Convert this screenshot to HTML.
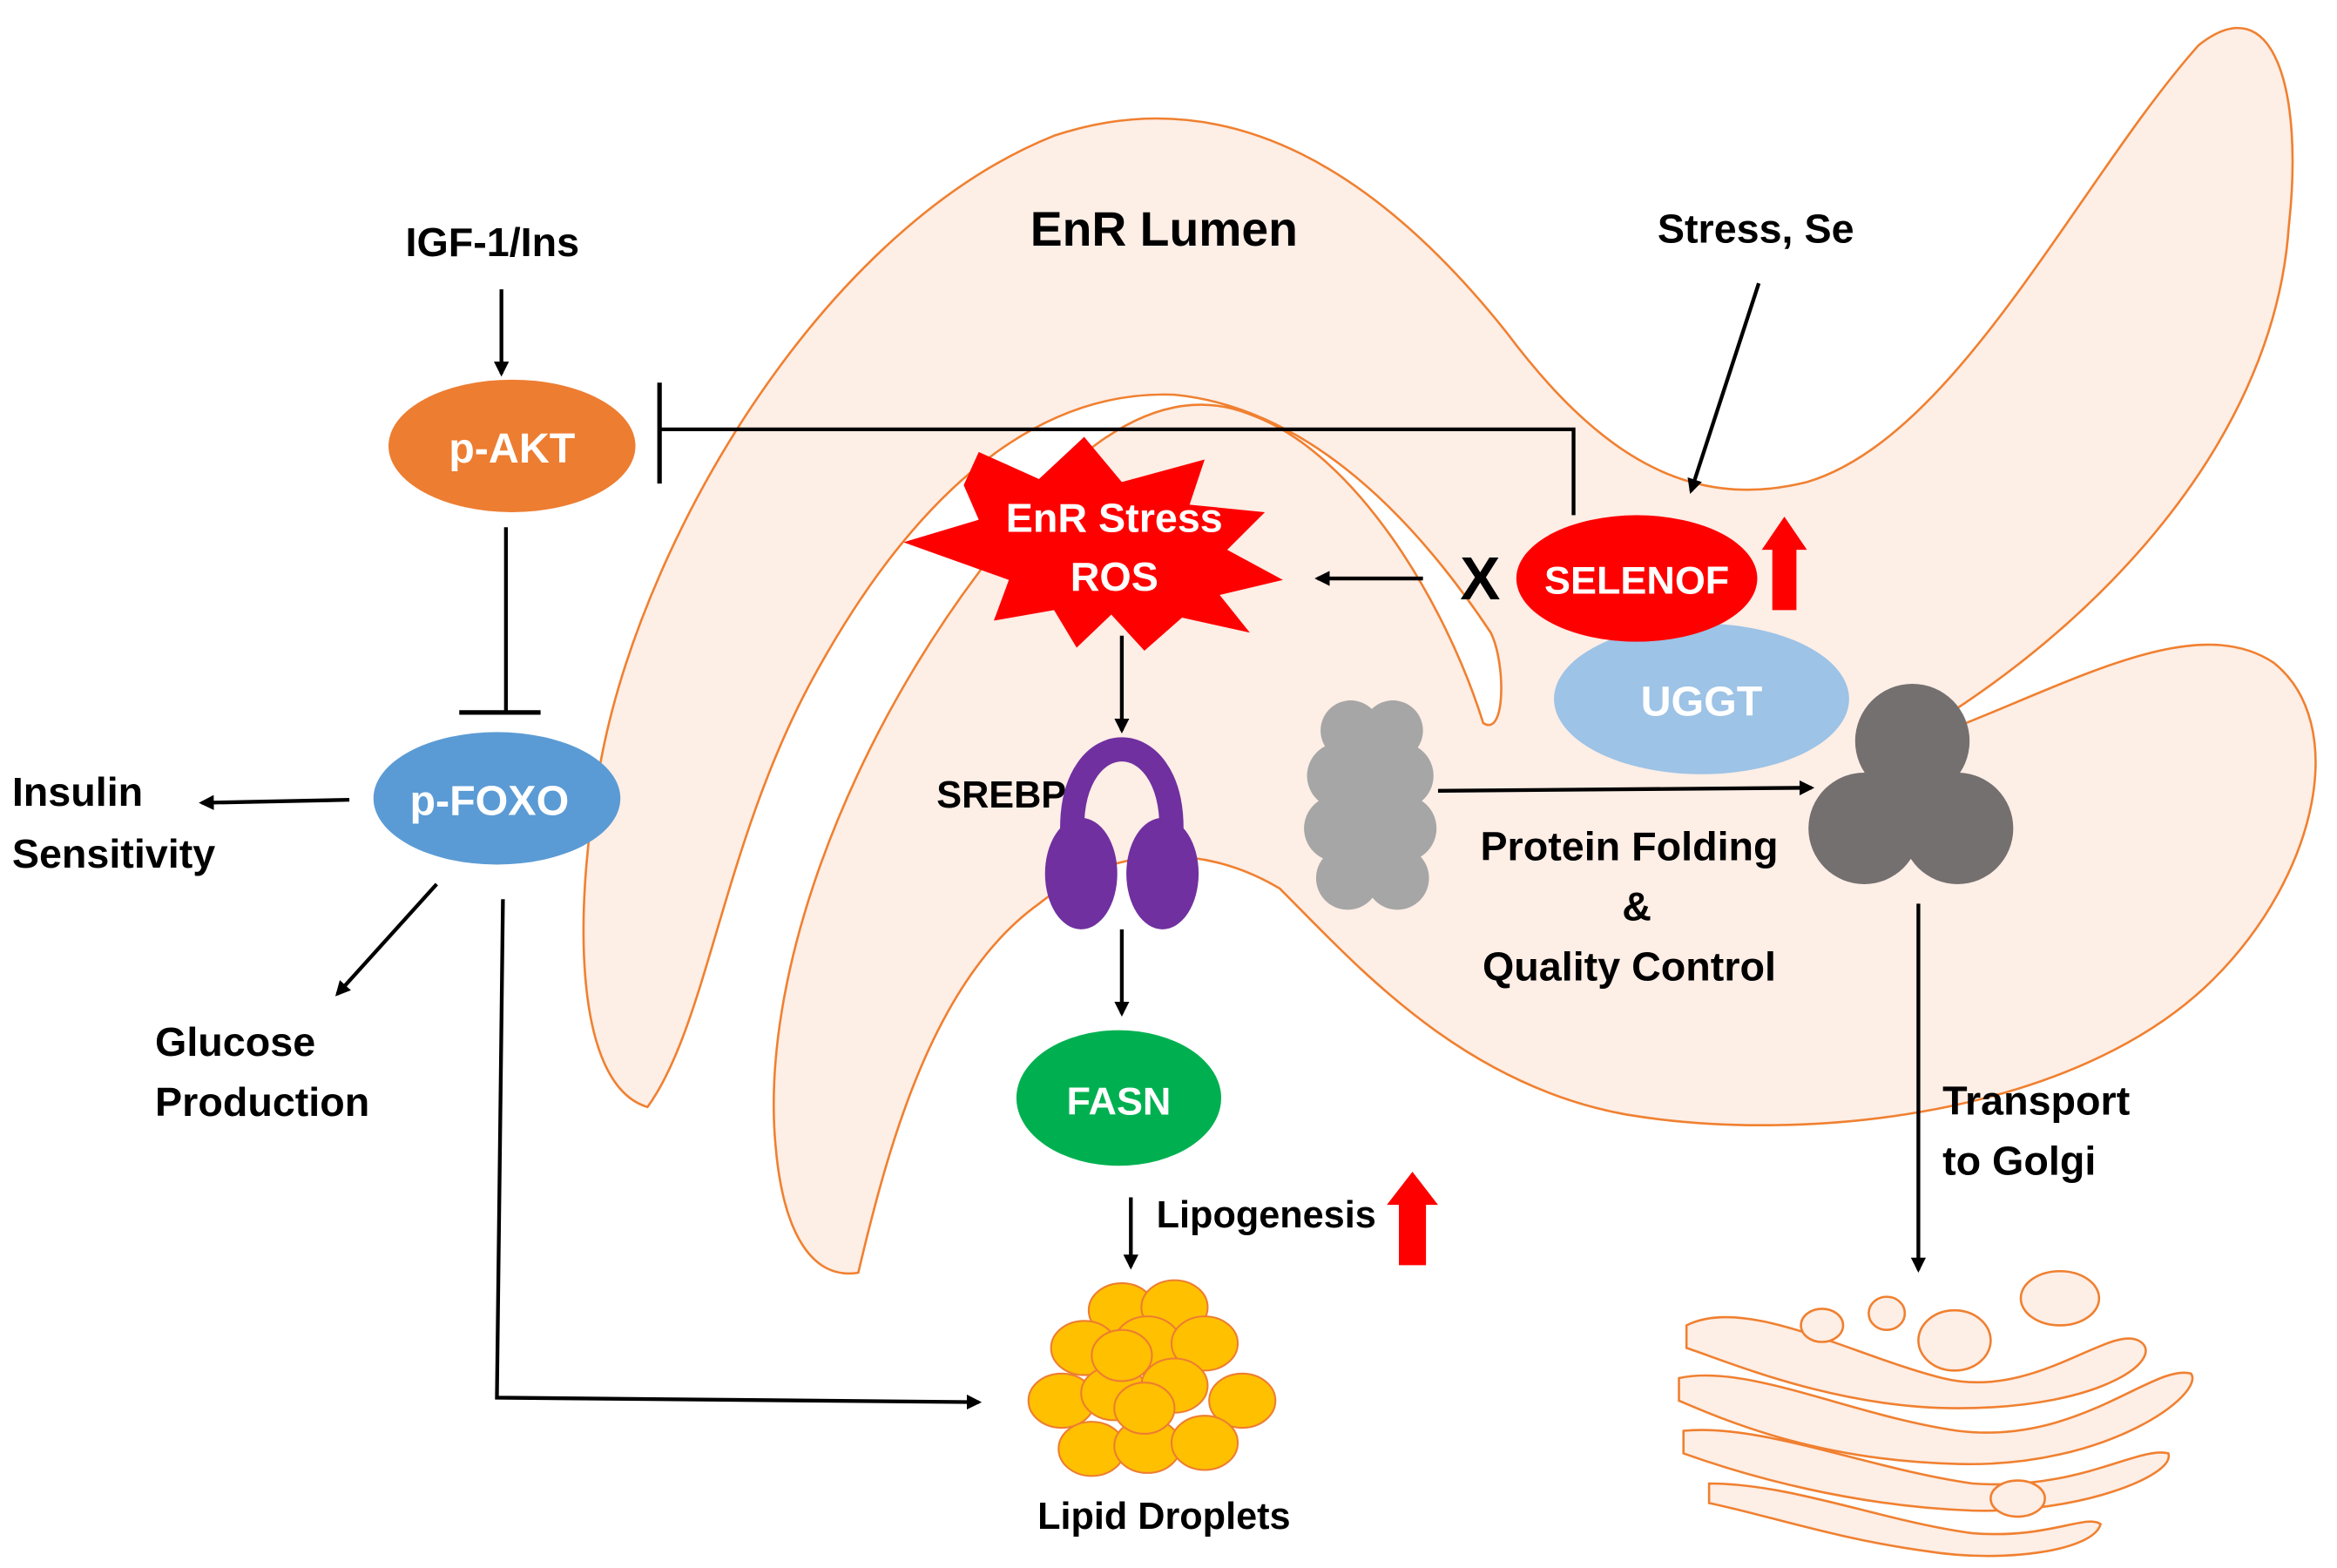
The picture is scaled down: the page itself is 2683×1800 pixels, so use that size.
<!DOCTYPE html>
<html><head><meta charset="utf-8"><style>
html,body{margin:0;padding:0;background:#fff}
svg{display:block}
text{font-family:"Liberation Sans",Arial,sans-serif;font-weight:bold}
</style></head><body>
<svg width="2683" height="1800" viewBox="0 0 1552 1041" xmlns="http://www.w3.org/2000/svg">
<defs>
<marker id="ah" markerWidth="10" markerHeight="10" refX="8" refY="5" orient="auto" markerUnits="userSpaceOnUse"><path d="M0,0 L10,5 L0,10 Z" fill="#000"/></marker>
</defs>
<rect width="1552" height="1041" fill="#fff"/>
<!-- ER -->
<path d="M430,735 C380,720 380,600 400,500 C430,350 550,150 700,90 C820,50 920,120 1000,220 C1060,300 1120,340 1200,320 C1300,290 1380,120 1460,30 C1510,-10 1530,60 1520,150 C1510,300 1380,430 1250,500 C1350,470 1450,400 1510,440 C1560,480 1540,580 1470,650 C1380,740 1200,760 1080,740 C970,720 900,640 850,590 C800,560 740,560 690,600 C620,650 590,760 570,845 C540,850 520,820 515,760 C505,650 560,500 650,380 C720,280 780,255 830,275 C900,300 960,400 985,480 C1000,490 1000,440 990,420 C930,330 860,270 780,262 C680,258 600,340 540,450 C480,560 470,680 430,735 Z" fill="#fdeee6" stroke="#f08030" stroke-width="1.5"/>
<text x="773" y="163" font-size="32" text-anchor="middle">EnR Lumen</text>
<!-- IGF -->
<text x="327" y="170" font-size="27" text-anchor="middle">IGF-1/Ins</text>
<line x1="333" y1="192" x2="333" y2="248" stroke="#000" stroke-width="2.5" marker-end="url(#ah)"/>
<ellipse cx="340" cy="296" rx="82" ry="44" fill="#ed7d31"/>
<text x="340" y="307" font-size="28" fill="#fff" text-anchor="middle">p-AKT</text>
<polyline points="1045,342 1045,285 438,285" fill="none" stroke="#000" stroke-width="2.5"/>
<line x1="438" y1="254" x2="438" y2="321" stroke="#000" stroke-width="3"/>
<line x1="336" y1="350" x2="336" y2="472" stroke="#000" stroke-width="2.5"/>
<line x1="305" y1="473" x2="359" y2="473" stroke="#000" stroke-width="3"/>
<ellipse cx="330" cy="530" rx="82" ry="44" fill="#5b9bd5"/>
<text x="325" y="541" font-size="28" fill="#fff" text-anchor="middle">p-FOXO</text>
<line x1="232" y1="531" x2="134" y2="533" stroke="#000" stroke-width="2.5" marker-end="url(#ah)"/>
<text x="8" y="535" font-size="27">Insulin</text>
<text x="8" y="576" font-size="27">Sensitivity</text>
<line x1="290" y1="587" x2="224" y2="660" stroke="#000" stroke-width="2.5" marker-end="url(#ah)"/>
<text x="103" y="701" font-size="27">Glucose</text>
<text x="103" y="741" font-size="27">Production</text>
<polyline points="334,597 330,928 650,931" fill="none" stroke="#000" stroke-width="2.5" marker-end="url(#ah)"/>
<!-- starburst -->
<polygon points="650,300 690,318 720,290 745,320 800,305 790,335 840,340 815,365 852,385 810,395 830,420 785,410 760,432 738,408 715,430 700,405 660,412 670,385 600,360 650,345 640,322" fill="#ff0000"/>
<text x="740" y="353" font-size="27" fill="#fff" text-anchor="middle">EnR Stress</text>
<text x="740" y="392" font-size="27" fill="#fff" text-anchor="middle">ROS</text>
<line x1="945" y1="384" x2="875" y2="384" stroke="#000" stroke-width="2.5" marker-end="url(#ah)"/>
<text x="983" y="398" font-size="40" text-anchor="middle">X</text>
<ellipse cx="1130" cy="464" rx="98" ry="50" fill="#9dc3e6"/>
<text x="1130" y="475" font-size="28" fill="#fff" text-anchor="middle">UGGT</text>
<ellipse cx="1087" cy="384" rx="80" ry="42" fill="#ff0000"/>
<text x="1087" y="394" font-size="26" fill="#fff" text-anchor="middle">SELENOF</text>
<polygon points="1185,343 1200,365 1193,365 1193,405 1177,405 1177,365 1170,365" fill="#ff0000"/>
<text x="1166" y="161" font-size="27" text-anchor="middle">Stress, Se</text>
<line x1="1168" y1="188" x2="1123" y2="326" stroke="#000" stroke-width="2.5" marker-end="url(#ah)"/>
<!-- SREBP -->
<line x1="745" y1="422" x2="745" y2="485" stroke="#000" stroke-width="2.5" marker-end="url(#ah)"/>
<text x="622" y="536" font-size="25">SREBP</text>
<path d="M712,550 C712,480 778,480 778,550" fill="none" stroke="#7030a0" stroke-width="16"/>
<ellipse cx="718" cy="580" rx="24" ry="37" fill="#7030a0"/>
<ellipse cx="772" cy="580" rx="24" ry="37" fill="#7030a0"/>
<line x1="745" y1="617" x2="745" y2="673" stroke="#000" stroke-width="2.5" marker-end="url(#ah)"/>
<ellipse cx="743" cy="729" rx="68" ry="45" fill="#00b050"/>
<text x="743" y="740" font-size="26" fill="#fff" text-anchor="middle">FASN</text>
<line x1="751" y1="795" x2="751" y2="841" stroke="#000" stroke-width="2.5" marker-end="url(#ah)"/>
<text x="768" y="815" font-size="25">Lipogenesis</text>
<polygon points="938,778 955,800 947,800 947,840 929,840 929,800 921,800" fill="#ff0000"/>
<!-- lipid droplets -->
<g fill="#ffc000" stroke="#ed7d31" stroke-width="1.2">
<ellipse cx="745" cy="870" rx="22" ry="18"/><ellipse cx="780" cy="868" rx="22" ry="18"/>
<ellipse cx="720" cy="895" rx="22" ry="18"/><ellipse cx="762" cy="892" rx="22" ry="18"/><ellipse cx="800" cy="892" rx="22" ry="18"/>
<ellipse cx="705" cy="930" rx="22" ry="18"/><ellipse cx="825" cy="930" rx="22" ry="18"/>
<ellipse cx="740" cy="925" rx="22" ry="18"/><ellipse cx="780" cy="920" rx="22" ry="18"/>
<ellipse cx="725" cy="962" rx="22" ry="18"/><ellipse cx="762" cy="960" rx="22" ry="18"/><ellipse cx="800" cy="958" rx="22" ry="18"/>
<ellipse cx="745" cy="900" rx="20" ry="17"/><ellipse cx="760" cy="935" rx="20" ry="17"/>
</g>
<text x="773" y="1015" font-size="25" text-anchor="middle">Lipid Droplets</text>
<!-- grey cloud -->
<g fill="#a6a6a6">
<circle cx="897" cy="485" r="20"/><circle cx="925" cy="485" r="20"/>
<circle cx="890" cy="515" r="22"/><circle cx="930" cy="515" r="22"/>
<circle cx="888" cy="550" r="22"/><circle cx="932" cy="550" r="22"/>
<circle cx="895" cy="583" r="21"/><circle cx="928" cy="583" r="21"/>
<rect x="885" y="480" width="50" height="110"/>
</g>
<line x1="955" y1="525" x2="1203" y2="523" stroke="#000" stroke-width="2.5" marker-end="url(#ah)"/>
<g fill="#747070">
<circle cx="1270" cy="492" r="38"/><circle cx="1238" cy="550" r="37"/><circle cx="1300" cy="550" r="37"/>
<rect x="1240" y="500" width="60" height="60"/>
</g>
<text x="1082" y="571" font-size="27" text-anchor="middle">Protein Folding</text>
<text x="1087" y="611" font-size="27" text-anchor="middle">&amp;</text>
<text x="1082" y="651" font-size="27" text-anchor="middle">Quality Control</text>
<line x1="1274" y1="600" x2="1274" y2="843" stroke="#000" stroke-width="2.5" marker-end="url(#ah)"/>
<text x="1290" y="740" font-size="27">Transport</text>
<text x="1290" y="780" font-size="27">to Golgi</text>
<!-- golgi -->
<g fill="#fdeee6" stroke="#f08030" stroke-width="1.5">
<path d="M1120,880 C1160,860 1230,900 1290,915 C1350,930 1400,880 1420,890 C1440,900 1400,935 1300,935 C1220,935 1150,905 1120,895 Z"/>
<path d="M1115,915 C1160,905 1230,940 1300,950 C1380,960 1430,905 1455,912 C1465,925 1400,975 1300,972 C1210,970 1150,945 1115,930 Z"/>
<path d="M1118,950 C1170,945 1240,975 1310,985 C1380,990 1420,960 1440,965 C1445,980 1380,1005 1310,1003 C1230,1000 1160,980 1118,965 Z"/>
<path d="M1135,985 C1190,985 1250,1010 1310,1018 C1360,1022 1385,1005 1395,1012 C1390,1030 1330,1038 1280,1030 C1220,1022 1170,1005 1135,998 Z"/>
<ellipse cx="1210" cy="880" rx="14" ry="11"/><ellipse cx="1253" cy="872" rx="12" ry="11"/>
<ellipse cx="1298" cy="890" rx="24" ry="20"/><ellipse cx="1368" cy="862" rx="26" ry="18"/>
<ellipse cx="1340" cy="995" rx="18" ry="12"/>
</g>
</svg>
</body></html>
